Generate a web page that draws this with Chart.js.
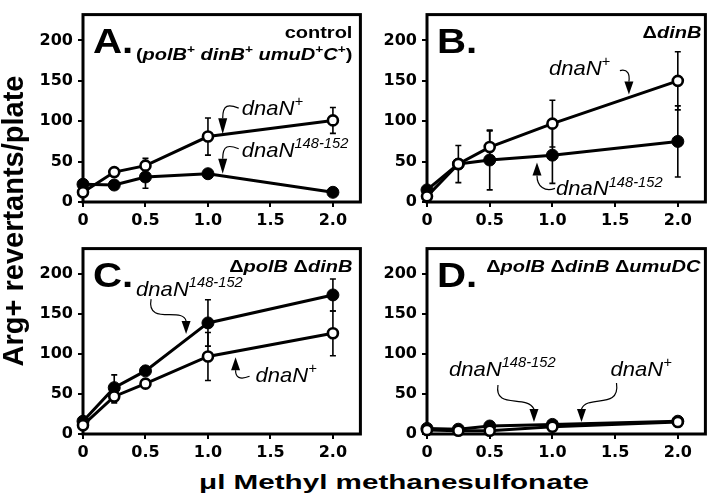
<!DOCTYPE html>
<html><head><meta charset="utf-8">
<script src="https://cdn.jsdelivr.net/npm/chart.js@4.4.1/dist/chart.umd.min.js"></script>
<style>
html,body{margin:0;padding:0;background:#fff;}
body{width:713px;height:501px;position:relative;overflow:hidden;}
canvas{position:absolute;}
#ytitle{position:absolute;left:-153px;top:201px;width:340px;height:40px;line-height:40px;text-align:center;
  font:bold 29px "Liberation Sans",Arial,sans-serif;color:#000;transform:rotate(-90deg);white-space:nowrap;}
#xtitle{position:absolute;left:144px;top:470px;width:500px;height:24px;line-height:24px;text-align:center;
  font:bold 21px "Liberation Sans",Arial,sans-serif;color:#000;transform:scaleX(1.41);white-space:nowrap;}
</style></head><body>
<canvas id="cA" width="335" height="232" style="left:33px;top:0px"></canvas>
<canvas id="cB" width="336" height="232" style="left:377px;top:0px"></canvas>
<canvas id="cC" width="335" height="230" style="left:33px;top:234px"></canvas>
<canvas id="cD" width="336" height="230" style="left:377px;top:234px"></canvas>
<div id="ytitle">Arg+ revertants/plate</div>
<div id="xtitle">μl Methyl methanesulfonate</div>
<script>
// ---------- data ----------
const doseValues = [0, 0.25, 0.5, 1.0, 2.0];
const xTickValues = [0, 0.5, 1.0, 1.5, 2.0];
const yTickValues = [0, 50, 100, 150, 200];
const xAxisMax = 2.22;
const yAxisMax = 232;

const aDnaNPlus    = [12, 37, 45, 81, 101];
const aDnaNPlusErr = [0, 0, 9, 23, 16];
const aDnaNMut     = [22, 21, 31, 35, 12];
const aDnaNMutErr  = [0, 0, 14, 0, 0];

const bDnaNPlus    = [7, 47, 68, 97, 150];
const bDnaNPlusErr = [0, 23, 20, 29, 36];
const bDnaNMut     = [15, 47, 52, 58, 75];
const bDnaNMutErr  = [0, 0, 37, 35, 44];

const cDnaNPlus    = [11, 47, 63, 97, 126];
const cDnaNPlusErr = [0, 8, 0, 30, 28];
const cDnaNMut     = [16, 58, 79, 139, 174];
const cDnaNMutErr  = [0, 16, 0, 29, 20];

const dDnaNPlus    = [5, 4, 4, 9, 15];
const dDnaNPlusErr = [0, 0, 0, 0, 0];
const dDnaNMut     = [7, 6, 10, 12, 16];
const dDnaNMutErr  = [0, 0, 0, 0, 0];

const panelLetters = ['A.', 'B.', 'C.', 'D.'];
// rich text segments: [text, style]  b=bold i=italic s=superscript
const titleA = [[['control','b']],
  [['(','b'],['polB','bi'],['+','bs'],[' dinB','bi'],['+','bs'],[' umuD','bi'],['+','bs'],['C','bi'],['+','bs'],[')','b']]];
const titleB = [[['Δ','b'],['dinB','bi']]];
const titleC = [[['Δ','b'],['polB','bi'],[' Δ','b'],['dinB','bi']]];
const titleD = [[['Δ','b'],['polB','bi'],[' Δ','b'],['dinB','bi'],[' Δ','b'],['umuDC','bi']]];
const labelPlus = [['dnaN','i'],['+','is']];
const labelMut  = [['dnaN','i'],['148-152','is']];

// annotation: tip in data units; path/text offsets in px from the tip
const annA = [
  {label: labelPlus, tip: [1.118, 84], text: [19, -19], path: [[16,-26],[6,-30],[0,-30],[0,-16]]},
  {label: labelMut,  tip: [1.118, 35], text: [19, -17], path: [[16,-25],[6,-29],[0,-29],[0,-15]]}
];
const annB = [
  {label: labelPlus, tip: [1.61, 133], text: [-80, -20], path: [[-9,-24],[-1,-26],[1,-20],[0,-13]]},
  {label: labelMut,  tip: [0.877, 49], text: [19, 33],  path: [[18,26],[8,30],[0,24],[0,13]]}
];
const annC = [
  {label: labelMut,  tip: [0.825, 125], text: [-50, -38], path: [[-35,-35],[-40,-8],[-3,-28],[0,-13]]},
  {label: labelPlus, tip: [1.221, 96],  text: [20, 25],   path: [[14,19],[4,23],[0,20],[0,13]]}
];
const annD = [
  {label: labelMut,  tip: [0.853, 15], text: [-85, -46], path: [[-36,-37],[-40,-12],[-8,-28],[0,-13]]},
  {label: labelPlus, tip: [1.232, 15], text: [29, -46],  path: [[35,-39],[39,-12],[6,-28],[0,-13]]}
];

// ---------- drawing helpers ----------
function fontStr(style, size) {
  const italic = style.includes('i') ? 'italic ' : '';
  const bold = style.includes('b') ? 'bold ' : '';
  const sz = style.includes('s') ? Math.round(size * 0.68) : size;
  return italic + bold + sz + 'px "Liberation Sans", Arial, sans-serif';
}
function drawRich(ctx, segs, x, y, align, size, sx) {
  ctx.save();
  let w = 0;
  for (const [t, st] of segs) { ctx.font = fontStr(st, size); w += ctx.measureText(t).width; }
  const x0 = align === 'right' ? x - w * sx : x;
  ctx.translate(x0, y); ctx.scale(sx, 1);
  ctx.textBaseline = 'alphabetic'; ctx.textAlign = 'left'; ctx.fillStyle = '#000';
  let cx = 0;
  for (const [t, st] of segs) {
    ctx.font = fontStr(st, size);
    const dy = st.includes('s') ? -size * 0.42 : 0;
    ctx.fillText(t, cx, dy);
    cx += ctx.measureText(t).width;
  }
  ctx.restore();
}
function drawAnnotation(chart, ann) {
  const {ctx, scales} = chart;
  const tx = scales.x.getPixelForValue(ann.tip[0]);
  const ty = scales.y.getPixelForValue(ann.tip[1]);
  const [S, C1, C2, E] = ann.path;
  ctx.save();
  ctx.strokeStyle = '#000'; ctx.fillStyle = '#000'; ctx.lineWidth = 1.2;
  ctx.beginPath();
  ctx.moveTo(tx + S[0], ty + S[1]);
  ctx.bezierCurveTo(tx + C1[0], ty + C1[1], tx + C2[0], ty + C2[1], tx + E[0], ty + E[1]);
  ctx.stroke();
  const dx = -E[0], dy = -E[1], len = Math.hypot(dx, dy);
  const px = -dy / len, py = dx / len, hw = 4.5;
  ctx.beginPath();
  ctx.moveTo(tx, ty);
  ctx.lineTo(tx + E[0] + px * hw, ty + E[1] + py * hw);
  ctx.lineTo(tx + E[0] - px * hw, ty + E[1] - py * hw);
  ctx.closePath(); ctx.fill();
  drawRich(ctx, ann.label, tx + ann.text[0], ty + ann.text[1], 'left', 21, 1.05);
  ctx.restore();
}

function makePanel(id, letter, title, titleRightInset, plus, plusErr, mut, mutErr, anns) {
  const panelPlugin = {
    id: 'panel_' + id,
    beforeDatasetsDraw(chart) {
      const {ctx, chartArea: a, scales} = chart;
      ctx.save();
      ctx.strokeStyle = '#000'; ctx.lineWidth = 3;
      ctx.strokeRect(a.left, a.top, a.right - a.left, a.bottom - a.top);
      ctx.lineWidth = 1.6;
      const drawErr = (vals, errs) => {
        doseValues.forEach((x, i) => {
          if (!errs[i]) return;
          const px = scales.x.getPixelForValue(x);
          const y1 = scales.y.getPixelForValue(vals[i] + errs[i]);
          const y2 = scales.y.getPixelForValue(Math.max(0, vals[i] - errs[i]));
          ctx.beginPath();
          ctx.moveTo(px, y1); ctx.lineTo(px, y2);
          ctx.moveTo(px - 3, y1); ctx.lineTo(px + 3, y1);
          ctx.moveTo(px - 3, y2); ctx.lineTo(px + 3, y2);
          ctx.stroke();
        });
      };
      drawErr(mut, mutErr);
      drawErr(plus, plusErr);
      ctx.restore();
    },
    afterDatasetsDraw(chart) {
      const {ctx, chartArea: a} = chart;
      ctx.save();
      ctx.fillStyle = '#000';
      ctx.font = 'bold 35px "Liberation Sans", Arial, sans-serif';
      ctx.translate(a.left + 10, a.top + 38); ctx.scale(1.15, 1);
      ctx.textBaseline = 'alphabetic';
      ctx.fillText(letter, 0, 0);
      ctx.restore();
      title.forEach((line, k) => drawRich(ctx, line, a.right - titleRightInset, a.top + 23 + k * 22, 'right', 16, 1.25));
      anns.forEach(an => drawAnnotation(chart, an));
    }
  };
  const tickFont = {family: '"DejaVu Sans", sans-serif', weight: 'bold', size: 16};
  return new Chart(document.getElementById(id), {
    type: 'line',
    data: {
      datasets: [
        {label: 'dnaN+', data: doseValues.map((x, i) => ({x, y: plus[i]})),
         borderColor: '#000', borderWidth: 3, pointRadius: 5, pointBorderWidth: 2.6,
         pointBackgroundColor: '#fff', pointBorderColor: '#000', clip: false, order: 0},
        {label: 'dnaN148-152', data: doseValues.map((x, i) => ({x, y: mut[i]})),
         borderColor: '#000', borderWidth: 3, pointRadius: 6, pointBorderWidth: 1,
         pointBackgroundColor: '#000', pointBorderColor: '#000', clip: false, order: 1}
      ]
    },
    options: {
      responsive: false, animation: false, devicePixelRatio: 1,
      layout: {padding: {top: 4, right: 5, left: 0, bottom: 0}},
      plugins: {legend: {display: false}, tooltip: {enabled: false}},
      scales: {
        x: {type: 'linear', min: 0, max: xAxisMax,
            afterBuildTicks: s => { s.ticks = xTickValues.map(v => ({value: v})); },
            afterFit: s => { s.height = 30; },
            grid: {drawOnChartArea: false, drawTicks: true, tickLength: 5, lineWidth: 2, color: '#000'},
            border: {display: false},
            ticks: {color: '#000', font: tickFont, padding: 4, maxRotation: 0, autoSkip: false,
                    callback: v => v === 0 ? '0' : Number(v).toFixed(1)}},
        y: {type: 'linear', min: 0, max: yAxisMax,
            afterBuildTicks: s => { s.ticks = yTickValues.map(v => ({value: v})); },
            afterFit: s => { s.width = 50; },
            grid: {drawOnChartArea: false, drawTicks: true, tickLength: 5, lineWidth: 2, color: '#000'},
            border: {display: false},
            ticks: {color: '#000', font: tickFont, padding: 5, autoSkip: false,
                    callback: v => String(v)}}
      }
    },
    plugins: [panelPlugin]
  });
}

makePanel('cA', panelLetters[0], titleA, 8, aDnaNPlus, aDnaNPlusErr, aDnaNMut, aDnaNMutErr, annA);
makePanel('cB', panelLetters[1], titleB, 4, bDnaNPlus, bDnaNPlusErr, bDnaNMut, bDnaNMutErr, annB);
makePanel('cC', panelLetters[2], titleC, 8, cDnaNPlus, cDnaNPlusErr, cDnaNMut, cDnaNMutErr, annC);
makePanel('cD', panelLetters[3], titleD, 5, dDnaNPlus, dDnaNPlusErr, dDnaNMut, dDnaNMutErr, annD);
</script>
</body></html>
